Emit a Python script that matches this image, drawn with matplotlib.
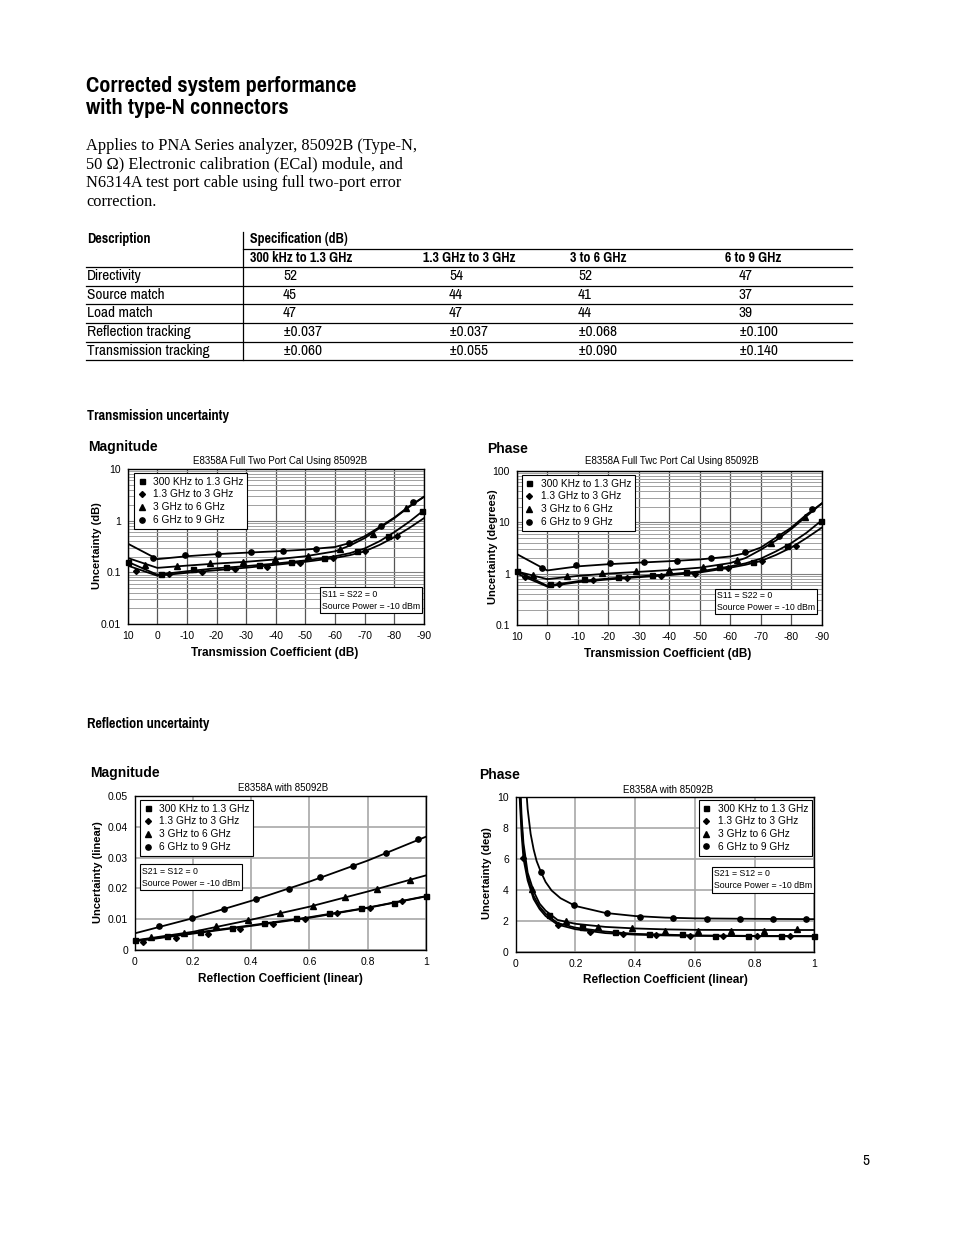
import os
import matplotlib
matplotlib.use("Agg")
import matplotlib.pyplot as plt
from matplotlib import font_manager as fm
from matplotlib.font_manager import FontProperties
from matplotlib.lines import Line2D
from matplotlib.ticker import FixedLocator, FixedFormatter, LogLocator, NullFormatter

plt.rcParams['font.family'] = ['Liberation Sans', 'DejaVu Sans']
plt.rcParams['axes.unicode_minus'] = False

W, H = 954, 1235
SERIF = ['Liberation Serif', 'DejaVu Serif']

# ---------------- text data ----------------
TITLE_LINES = ["Corrected system performance", "with type-N connectors"]
PARA_LINES = ["Applies to PNA Series analyzer, 85092B (Type-N,",
              "50 \u03a9) Electronic calibration (ECal) module, and",
              "N6314A test port cable using full two-port error",
              "correction."]

# ---------------- table data ----------------
TABLE_COLS = ["300 kHz to 1.3 GHz", "1.3 GHz to 3 GHz", "3 to 6 GHz", "6 to 9 GHz"]
TABLE_ROWS = ["Directivity", "Source match", "Load match", "Reflection tracking", "Transmission tracking"]
TABLE_VALUES = [
    ["52", "54", "52", "47"],
    ["45", "44", "41", "37"],
    ["47", "47", "44", "39"],
    ["±0.037", "±0.037", "±0.068", "±0.100"],
    ["±0.060", "±0.055", "±0.090", "±0.140"],
]

SERIES = ["300 KHz to 1.3 GHz", "1.3 GHz to 3 GHz", "3 GHz to 6 GHz", "6 GHz to 9 GHz"]

# ---------------- transmission magnitude (dB) ----------------
TM_LINE_X = [10, 0, -10, -20, -30, -40, -50, -60, -65, -70, -75, -80, -85, -90]
TM_LINE_SQ = [0.16, 0.09, 0.105, 0.12, 0.132, 0.148, 0.17, 0.205, 0.235, 0.29, 0.40, 0.60, 0.95, 1.6]
TM_LINE_DI = [0.135, 0.086, 0.098, 0.11, 0.123, 0.14, 0.16, 0.19, 0.215, 0.255, 0.34, 0.48, 0.72, 1.12]
TM_LINE_TR = [0.19, 0.122, 0.135, 0.148, 0.16, 0.178, 0.205, 0.255, 0.33, 0.46, 0.72, 1.12, 1.85, 2.9]
TM_LINE_CI = [0.36, 0.18, 0.205, 0.225, 0.24, 0.255, 0.275, 0.31, 0.37, 0.50, 0.75, 1.15, 1.9, 2.9]
TM_SQ_X = [10, -1.3, -12.2, -23.2, -34.2, -45.2, -56.3, -67.3, -78, -89.4]
TM_SQ_Y = [0.161, 0.093, 0.114, 0.125, 0.137, 0.161, 0.189, 0.259, 0.513, 1.54]
TM_DI_X = [7.2, -4, -15.1, -26.1, -37.1, -48.2, -59.2, -70.1, -81]
TM_DI_Y = [0.106, 0.091, 0.103, 0.114, 0.129, 0.152, 0.189, 0.259, 0.50]
TM_TR_X = [4.2, -6.8, -17.8, -28.8, -39.7, -50.7, -61.8, -72.7, -83.8]
TM_TR_Y = [0.139, 0.132, 0.149, 0.158, 0.179, 0.21, 0.279, 0.543, 1.73]
TM_CI_X = [1.3, -9.3, -20.4, -31.5, -42.4, -53.4, -64.7, -75.4, -86.3]
TM_CI_Y = [0.19, 0.213, 0.23, 0.248, 0.258, 0.287, 0.364, 0.79, 2.33]

# ---------------- transmission phase (degrees) ----------------
TP_LINE_X = [10, 0, -10, -20, -30, -40, -50, -60, -65, -70, -75, -80, -85, -90]
TP_LINE_SQ = [1.12, 0.58, 0.71, 0.80, 0.88, 0.97, 1.10, 1.38, 1.58, 1.95, 2.7, 3.9, 6.2, 10.8]
TP_LINE_DI = [1.0, 0.56, 0.68, 0.77, 0.85, 0.93, 1.05, 1.30, 1.48, 1.75, 2.3, 3.2, 4.9, 7.8]
TP_LINE_TR = [1.1, 0.78, 0.90, 1.0, 1.08, 1.17, 1.30, 1.60, 2.0, 2.9, 4.4, 7.3, 13.0, 23.0]
TP_LINE_CI = [2.4, 1.15, 1.38, 1.52, 1.63, 1.74, 1.88, 2.15, 2.5, 3.2, 5.0, 7.8, 14.0, 23.0]
TP_SQ_X = [10, -0.9, -12.2, -23.1, -34.3, -45.4, -56.3, -67.6, -78.5, -89.7]
TP_SQ_Y = [1.14, 0.625, 0.77, 0.84, 0.92, 1.05, 1.32, 1.68, 3.43, 10.7]
TP_DI_X = [7.3, -3.9, -15.1, -26.1, -37.3, -48.5, -59.4, -70.5, -81.5]
TP_DI_Y = [0.84, 0.62, 0.75, 0.83, 0.88, 1.0, 1.28, 1.74, 3.43]
TP_TR_X = [4.5, -6.6, -17.9, -29, -40, -51.2, -62.1, -73.3, -84.5]
TP_TR_Y = [0.95, 0.89, 1.01, 1.10, 1.17, 1.34, 1.81, 3.87, 12.4]
TP_CI_X = [1.8, -9.5, -20.6, -31.7, -42.7, -53.8, -65, -75.9, -86.9]
TP_CI_Y = [1.28, 1.44, 1.58, 1.68, 1.78, 2.0, 2.58, 5.37, 18.0]

# ---------------- reflection magnitude (linear) ----------------
RM_LINE_X = [0, 0.2, 0.4, 0.6, 0.8, 1.0]
RM_LINE_SQ = [0.0031, 0.0056, 0.0081, 0.0107, 0.0138, 0.0175]
RM_LINE_DI = [0.0029, 0.0054, 0.0079, 0.0105, 0.0137, 0.0174]
RM_LINE_TR = [0.0032, 0.0060, 0.0099, 0.0141, 0.0190, 0.0242]
RM_LINE_CI = [0.0055, 0.0104, 0.0160, 0.0222, 0.0290, 0.0367]
RM_SQ_X = [0, 0.111, 0.224, 0.333, 0.445, 0.555, 0.667, 0.778, 0.891, 1.0]
RM_SQ_Y = [0.0033, 0.0047, 0.0059, 0.0073, 0.0087, 0.0103, 0.0121, 0.0137, 0.0152, 0.0175]
RM_DI_X = [0.029, 0.14, 0.251, 0.362, 0.474, 0.584, 0.695, 0.807, 0.92]
RM_DI_Y = [0.0027, 0.0039, 0.0053, 0.0068, 0.0084, 0.0100, 0.0120, 0.0138, 0.0160]
RM_TR_X = [0.054, 0.167, 0.278, 0.39, 0.5, 0.611, 0.722, 0.833, 0.946]
RM_TR_Y = [0.0044, 0.0057, 0.0077, 0.0098, 0.0120, 0.0144, 0.0171, 0.0198, 0.0227]
RM_CI_X = [0.084, 0.195, 0.307, 0.417, 0.529, 0.638, 0.751, 0.862, 0.974]
RM_CI_Y = [0.0077, 0.0103, 0.0133, 0.0165, 0.0198, 0.0236, 0.0273, 0.0316, 0.0359]

# ---------------- reflection phase (degrees) ----------------
RP_LINE_X_SQ = [0.015, 0.02, 0.026, 0.04, 0.06, 0.08, 0.1, 0.14, 0.2, 0.3, 0.4, 0.5, 0.6, 0.8, 1.0]
RP_LINE_SQ = [10, 8.2, 6.5, 4.8, 3.6, 2.9, 2.45, 1.85, 1.55, 1.3, 1.15, 1.1, 1.05, 1.02, 1.01]
RP_LINE_X_DI = [0.013, 0.02, 0.026, 0.04, 0.06, 0.08, 0.1, 0.14, 0.2, 0.3, 0.4, 0.5, 0.6, 0.8, 1.0]
RP_LINE_DI = [10, 7.5, 6.0, 4.6, 3.4, 2.75, 2.3, 1.75, 1.45, 1.2, 1.1, 1.05, 1.02, 1.0, 0.99]
RP_LINE_X_TR = [0.017, 0.02, 0.026, 0.04, 0.06, 0.08, 0.1, 0.14, 0.2, 0.3, 0.4, 0.5, 0.6, 0.8, 1.0]
RP_LINE_TR = [10, 8.6, 7.0, 5.1, 3.9, 3.1, 2.65, 2.05, 1.8, 1.6, 1.5, 1.44, 1.41, 1.4, 1.4]
RP_LINE_X_CI = [0.037, 0.04, 0.05, 0.06, 0.07, 0.084, 0.1, 0.12, 0.15, 0.2, 0.3, 0.4, 0.5, 0.6, 0.8, 1.0]
RP_LINE_CI = [10, 9.2, 7.6, 6.6, 5.85, 5.16, 4.5, 3.95, 3.45, 2.95, 2.5, 2.3, 2.2, 2.15, 2.12, 2.1]
RP_SQ_X = [0.111, 0.222, 0.333, 0.445, 0.555, 0.667, 0.778, 0.889, 1.0]
RP_SQ_Y = [2.37, 1.57, 1.29, 1.14, 1.12, 1.03, 1.03, 1.01, 1.01]
RP_DI_X = [0.026, 0.14, 0.25, 0.36, 0.47, 0.584, 0.695, 0.806, 0.917]
RP_DI_Y = [6.02, 1.72, 1.29, 1.14, 1.08, 1.03, 1.01, 0.99, 0.99]
RP_TR_X = [0.054, 0.167, 0.277, 0.388, 0.5, 0.61, 0.72, 0.83, 0.94]
RP_TR_Y = [4.04, 2.0, 1.61, 1.5, 1.35, 1.31, 1.31, 1.31, 1.44]
RP_CI_X = [0.084, 0.196, 0.305, 0.417, 0.528, 0.64, 0.75, 0.861, 0.972]
RP_CI_Y = [5.16, 3.01, 2.47, 2.26, 2.15, 2.13, 2.13, 2.13, 2.13]

MARKERS = [('s', 3.6), ('D', 3.0), ('^', 3.8), ('o', 3.8)]


# ---------------- narrow font lookup ----------------
def find_font(cands):
    files = {os.path.basename(f.fname).lower(): f.fname for f in fm.fontManager.ttflist}
    for c in cands:
        if c.lower() in files:
            return files[c.lower()]
    return None


reg_file = find_font(["PragatiNarrow-Regular.ttf", "RobotoCondensed-Regular.ttf", "PT_Sans-Narrow-Web-Regular.ttf",
                      "ArchivoNarrow-Regular.ttf", "DejaVuSansCondensed.ttf"])
bold_file = find_font(["PragatiNarrow-Bold.ttf", "RobotoCondensed-Bold.ttf", "PT_Sans-Narrow-Web-Bold.ttf",
                       "ArchivoNarrow-Bold.ttf", "DejaVuSansCondensed-Bold.ttf"])
NAR = FontProperties(fname=reg_file) if reg_file else FontProperties(family='Liberation Sans')
NARB = FontProperties(fname=bold_file) if bold_file else FontProperties(family='Liberation Sans', weight='bold')

fig = plt.figure(figsize=(W / 100, H / 100), dpi=100)
fig.patch.set_facecolor('white')
renderer = fig.canvas.get_renderer()


def fx(x):
    return x / W


def fy(y):
    return 1 - y / H


def add_ax(l, t, r, b):
    return fig.add_axes([l / W, 1 - b / H, (r - l) / W, (b - t) / H])


def ftext(x, y, s, **kw):
    return fig.text(fx(x), fy(y), s, **kw)


def ntext(x, y, s, bold=False, size=10, **kw):
    fp = (NARB if bold else NAR).copy()
    fp.set_size(size)
    return fig.text(fx(x), fy(y), s, fontproperties=fp, **kw)


def fit_size(s, fp, target_px, ref_size=10.0):
    p = fp.copy()
    p.set_size(ref_size)
    t = fig.text(0, 0, s, fontproperties=p)
    w = t.get_window_extent(renderer).width
    t.remove()
    return ref_size * target_px / w


def hline(x1, x2, y, lw=0.9):
    fig.add_artist(Line2D([fx(x1), fx(x2)], [fy(y), fy(y)], transform=fig.transFigure,
                          color='black', lw=lw))


# ---------------- header text ----------------
title_size = fit_size(TITLE_LINES[0], NARB, 271)
for by, line in zip([92, 114], TITLE_LINES):
    ntext(86, by, line, bold=True, size=title_size, va='baseline', ha='left')

para_size = fit_size(PARA_LINES[0], FontProperties(family=SERIF), 330)
for by, line in zip([150, 168.7, 187.4, 206], PARA_LINES):
    ftext(86, by, line, family=SERIF, fontsize=para_size, va='baseline', ha='left')

# ---------------- table ----------------
tb_size = fit_size("300 kHz to 1.3 GHz", NARB, 102)
tr_size = fit_size("Transmission tracking", NAR, 123)
ntext(87, 239, "Description", bold=True, size=tb_size, va='center')
ntext(250, 239, "Specification (dB)", bold=True, size=tb_size, va='center')
col_x = [250, 423, 570, 725]
val_x = [283, 449, 578, 739]
for cx, c in zip(col_x, TABLE_COLS):
    ntext(cx, 258, c, bold=True, size=tb_size, va='center')
row_y = [276, 295, 313, 332, 351]
for ry, rname, vals in zip(row_y, TABLE_ROWS, TABLE_VALUES):
    ntext(87, ry, rname, size=tr_size, va='center')
    for vx, v in zip(val_x, vals):
        ntext(vx, ry, v, size=tr_size, va='center')
hline(243, 852, 249)
for yy in [267, 286, 304, 323, 342, 360]:
    hline(86, 852, yy)
fig.add_artist(Line2D([fx(243), fx(243)], [fy(232), fy(360)], transform=fig.transFigure,
                      color='black', lw=0.9))

sec_size = fit_size("Transmission uncertainty", NARB, 143)
ntext(87, 416, "Transmission uncertainty", bold=True, size=sec_size, va='center')
ntext(87, 724, "Reflection uncertainty", bold=True, size=sec_size, va='center')
ntext(862, 1161, "5", size=tr_size, va='center')

ftext(88, 447, "Magnitude", fontweight='bold', fontsize=10, va='center')
ftext(487, 449, "Phase", fontweight='bold', fontsize=10, va='center')
ftext(90, 773, "Magnitude", fontweight='bold', fontsize=10, va='center')
ftext(479, 775, "Phase", fontweight='bold', fontsize=10, va='center')


def style_axes(ax):
    for sp in ax.spines.values():
        sp.set_color('black')
        sp.set_linewidth(1.0)
    ax.tick_params(which='both', length=0, labelsize=7.5, pad=5)
    ax.set_axisbelow(True)


def draw_series(ax, lines, marks):
    for (lx, ly) in lines:
        ax.plot(lx, ly, color='black', lw=1.3, zorder=3, solid_joinstyle='round')
    for (mx, my), (m, ms) in zip(marks, MARKERS):
        ax.plot(mx, my, linestyle='none', marker=m, markersize=ms, color='black', zorder=4,
                clip_on=False)


def add_legend(ax, x, y):
    handles = [Line2D([], [], linestyle='none', marker=m, markersize=ms, color='black')
               for m, ms in MARKERS]
    leg = ax.legend(handles, SERIES, loc='upper left', bbox_to_anchor=(x, y), borderaxespad=0,
                    fontsize=7.3, frameon=True, fancybox=False, framealpha=1, edgecolor='black',
                    handlelength=0.8, handletextpad=0.7, labelspacing=0.28, borderpad=0.35)
    leg.get_frame().set_linewidth(0.8)
    leg.set_zorder(6)


def add_note(ax, x, y, s):
    ax.text(x, y, s, transform=ax.transAxes, fontsize=6.3, linespacing=1.45, ha='left', va='bottom',
            zorder=6, bbox=dict(boxstyle='square,pad=0.25', fc='white', ec='black', lw=0.8))


def trans_axes(ax, ymin, ymax, ylabels):
    ax.set_yscale('log')
    ax.set_xlim(10, -90)
    ax.set_ylim(ymin, ymax)
    xt = list(range(10, -91, -10))
    ax.xaxis.set_major_locator(FixedLocator(xt))
    ax.xaxis.set_major_formatter(FixedFormatter([str(v) for v in xt]))
    yt = [ymin * 10 ** i for i in range(4)]
    ax.yaxis.set_major_locator(FixedLocator(yt))
    ax.yaxis.set_major_formatter(FixedFormatter(ylabels))
    ax.yaxis.set_minor_locator(LogLocator(base=10, subs=[2, 3, 4, 5, 6, 7, 8, 9]))
    ax.yaxis.set_minor_formatter(NullFormatter())
    ax.grid(True, which='major', axis='x', color='#555555', lw=0.9)
    ax.grid(True, which='major', axis='y', color='#808080', lw=0.8)
    ax.grid(True, which='minor', axis='y', color='#a0a0a0', lw=0.7)
    style_axes(ax)


# ---- transmission magnitude ----
ax1 = add_ax(127.7, 469, 424, 624)
trans_axes(ax1, 0.01, 10, ['0.01', '0.1', '1', '10'])
draw_series(ax1, [(TM_LINE_X, TM_LINE_SQ), (TM_LINE_X, TM_LINE_DI), (TM_LINE_X, TM_LINE_TR), (TM_LINE_X, TM_LINE_CI)],
            [(TM_SQ_X, TM_SQ_Y), (TM_DI_X, TM_DI_Y), (TM_TR_X, TM_TR_Y), (TM_CI_X, TM_CI_Y)])
add_legend(ax1, 0.021, 0.974)
add_note(ax1, 0.656, 0.085, "S11 = S22 = 0\nSource Power = -10 dBm")
ftext(280, 461, "E8358A Full Two Port Cal Using 85092B", fontsize=7, ha='center', va='center')
ftext(275, 653, "Transmission Coefficient (dB)", fontsize=8.5, fontweight='bold', ha='center', va='center')
ftext(97, 546, "Uncertainty (dB)", fontsize=8, fontweight='bold', ha='center', va='center', rotation=90)

# ---- transmission phase ----
ax2 = add_ax(516.7, 470.7, 821.7, 625)
trans_axes(ax2, 0.1, 100, ['0.1', '1', '10', '100'])
draw_series(ax2, [(TP_LINE_X, TP_LINE_SQ), (TP_LINE_X, TP_LINE_DI), (TP_LINE_X, TP_LINE_TR), (TP_LINE_X, TP_LINE_CI)],
            [(TP_SQ_X, TP_SQ_Y), (TP_DI_X, TP_DI_Y), (TP_TR_X, TP_TR_Y), (TP_CI_X, TP_CI_Y)])
add_legend(ax2, 0.017, 0.972)
add_note(ax2, 0.657, 0.085, "S11 = S22 = 0\nSource Power = -10 dBm")
ftext(672, 461, "E8358A Full Twc Port Cal Using 85092B", fontsize=7, ha='center', va='center')
ftext(668, 654, "Transmission Coefficient (dB)", fontsize=8.5, fontweight='bold', ha='center', va='center')
ftext(493, 547, "Uncertainty (degrees)", fontsize=8, fontweight='bold', ha='center', va='center', rotation=90)


def refl_axes(ax, ymax, ystep, yfmt):
    ax.set_xlim(0, 1)
    ax.set_ylim(0, ymax)
    xt = [0, 0.2, 0.4, 0.6, 0.8, 1.0]
    ax.xaxis.set_major_locator(FixedLocator(xt))
    ax.xaxis.set_major_formatter(FixedFormatter(['0', '0.2', '0.4', '0.6', '0.8', '1']))
    yt = [ystep * i for i in range(6)]
    ax.yaxis.set_major_locator(FixedLocator(yt))
    ax.yaxis.set_major_formatter(FixedFormatter(yfmt))
    ax.grid(True, which='major', color='#a8a8a8', lw=1.2)
    style_axes(ax)


# ---- reflection magnitude ----
ax3 = add_ax(135, 795.7, 425.7, 950.3)
refl_axes(ax3, 0.05, 0.01, ['0', '0.01', '0.02', '0.03', '0.04', '0.05'])
draw_series(ax3, [(RM_LINE_X, RM_LINE_SQ), (RM_LINE_X, RM_LINE_DI), (RM_LINE_X, RM_LINE_TR), (RM_LINE_X, RM_LINE_CI)],
            [(RM_SQ_X, RM_SQ_Y), (RM_DI_X, RM_DI_Y), (RM_TR_X, RM_TR_Y), (RM_CI_X, RM_CI_Y)])
add_legend(ax3, 0.017, 0.972)
add_note(ax3, 0.024, 0.405, "S21 = S12 = 0\nSource Power = -10 dBm")
ftext(283, 788, "E8358A with 85092B", fontsize=7, ha='center', va='center')
ftext(280, 979, "Reflection Coefficient (linear)", fontsize=8.5, fontweight='bold', ha='center', va='center')
ftext(98, 872, "Uncertainty (linear)", fontsize=8, fontweight='bold', ha='center', va='center', rotation=90)

# ---- reflection phase ----
ax4 = add_ax(515.7, 796.7, 814.5, 951.7)
refl_axes(ax4, 10, 2, ['0', '2', '4', '6', '8', '10'])
for (lx, ly) in [(RP_LINE_X_SQ, RP_LINE_SQ), (RP_LINE_X_DI, RP_LINE_DI), (RP_LINE_X_TR, RP_LINE_TR), (RP_LINE_X_CI, RP_LINE_CI)]:
    ax4.plot(lx, ly, color='black', lw=1.3, zorder=3)
for (mx, my), (m, ms) in zip([(RP_SQ_X, RP_SQ_Y), (RP_DI_X, RP_DI_Y), (RP_TR_X, RP_TR_Y), (RP_CI_X, RP_CI_Y)], MARKERS):
    ax4.plot(mx, my, linestyle='none', marker=m, markersize=ms, color='black', zorder=4, clip_on=False)
add_legend(ax4, 0.613, 0.979)
add_note(ax4, 0.664, 0.395, "S21 = S12 = 0\nSource Power = -10 dBm")
ftext(668, 790, "E8358A with 85092B", fontsize=7, ha='center', va='center')
ftext(665, 980, "Reflection Coefficient (linear)", fontsize=8.5, fontweight='bold', ha='center', va='center')
ftext(487, 873, "Uncertainty (deg)", fontsize=8, fontweight='bold', ha='center', va='center', rotation=90)

fig.savefig("out.png", dpi=100, facecolor='white')
